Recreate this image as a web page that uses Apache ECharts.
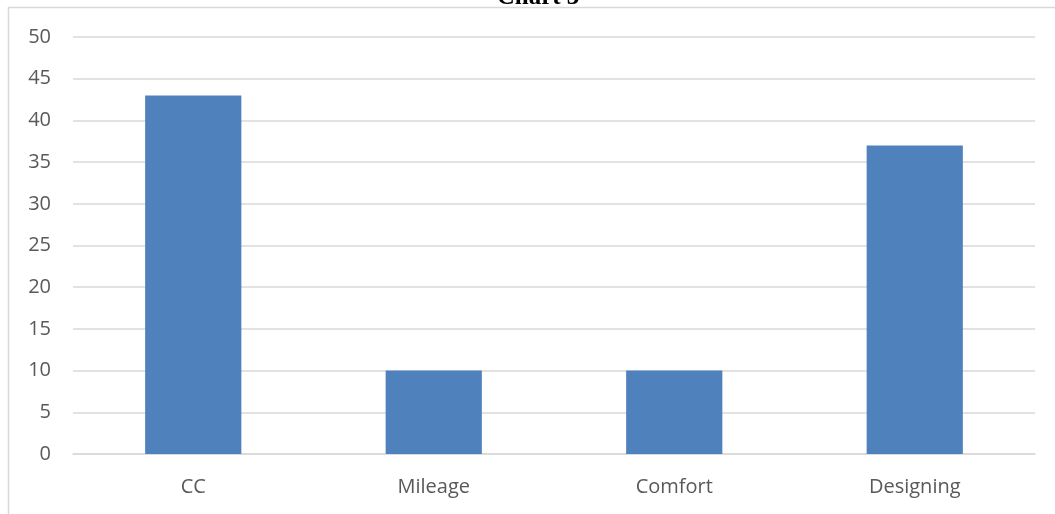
<!DOCTYPE html>
<html>
<head>
<meta charset="utf-8">
<script src="https://cdn.jsdelivr.net/npm/echarts@6/dist/echarts.min.js"></script>
<style>
  html, body { margin: 0; padding: 0; background: #ffffff; }
  #chart { width: 1055px; height: 514px; }
</style>
</head>
<body>
<div id="chart"></div>
<script>
// Chart 3: respondents by preferred attribute
const categories = ['CC', 'Mileage', 'Comfort', 'Designing'];
const counts = [43, 10, 10, 37];
const yTicks = { min: 0, max: 50, interval: 5 };

const chart = echarts.init(document.getElementById('chart'));
chart.setOption({
  animation: false,
  backgroundColor: '#ffffff',
  graphic: [
    {
      type: 'rect',
      silent: true,
      shape: { x: 8.5, y: 7.5, width: 1100, height: 600 },
      style: { fill: 'none', stroke: '#d9d9d9', lineWidth: 1.5 }
    },
    {
      type: 'text',
      silent: true,
      x: 538,
      y: 10,
      style: {
        text: 'Chart 3',
        font: 'bold 25px "Liberation Serif", serif',
        fill: '#000000',
        textAlign: 'center',
        textVerticalAlign: 'bottom'
      }
    }
  ],
  grid: { left: 73, right: 20, top: 37, bottom: 60 },
  xAxis: {
    type: 'category',
    data: categories,
    axisLine: { lineStyle: { color: '#d9d9d9', width: 1.5 } },
    axisTick: { show: false },
    axisLabel: {
      color: '#595959',
      fontFamily: '"Open Sans", "Noto Sans", sans-serif',
      fontSize: 20,
      margin: 23
    }
  },
  yAxis: {
    type: 'value',
    min: yTicks.min,
    max: yTicks.max,
    interval: yTicks.interval,
    axisLine: { show: false },
    axisTick: { show: false },
    splitLine: { lineStyle: { color: '#d9d9d9', width: 1.5 } },
    axisLabel: {
      color: '#595959',
      fontFamily: '"Open Sans", "Noto Sans", sans-serif',
      fontSize: 20,
      margin: 22
    }
  },
  series: [{
    type: 'bar',
    data: counts,
    barWidth: '40%',
    itemStyle: { color: '#4f81bd' }
  }]
});
</script>
</body>
</html>
